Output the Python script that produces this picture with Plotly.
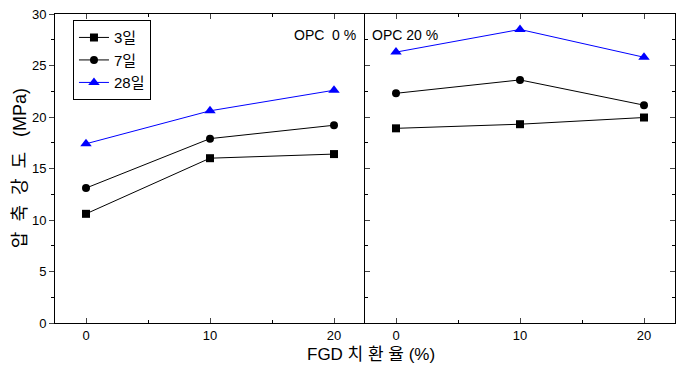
import plotly.graph_objects as go

x_vals = [0, 10, 20]
series_names = ["3일", "7일", "28일"]
opc0 = {
    "3일": [10.6, 16.0, 16.4],
    "7일": [13.1, 17.9, 19.2],
    "28일": [17.4, 20.6, 22.6],
}
opc20 = {
    "3일": [18.9, 19.3, 19.95],
    "7일": [22.3, 23.6, 21.15],
    "28일": [26.3, 28.5, 25.8],
}
panel_labels = ["OPC  0 %", "OPC 20 %"]
colors = {"3일": "black", "7일": "black", "28일": "blue"}
symbols = {"3일": "square", "7일": "circle", "28일": "triangle-up"}
msizes = {"3일": 8, "7일": 8, "28일": 10}

fig = go.Figure()
for name in series_names:
    fig.add_trace(go.Scatter(x=x_vals, y=opc0[name], name=name, mode="lines+markers",
                             line=dict(color=colors[name], width=1),
                             marker=dict(symbol=symbols[name], size=msizes[name], color=colors[name]),
                             xaxis="x", yaxis="y", legendgroup=name))
for name in series_names:
    fig.add_trace(go.Scatter(x=x_vals, y=opc20[name], name=name, mode="lines+markers",
                             line=dict(color=colors[name], width=1),
                             marker=dict(symbol=symbols[name], size=msizes[name], color=colors[name]),
                             xaxis="x2", yaxis="y2", legendgroup=name, showlegend=False))

tickfont = dict(family="Liberation Sans, Arial", size=13, color="black")
xcommon = dict(range=[-2.5, 22.5], tickvals=[0, 10, 20], ticks="inside", ticklen=5,
               showline=True, linecolor="black", linewidth=1, mirror="ticks",
               showgrid=False, zeroline=False, tickfont=tickfont,
               minor=dict(ticks="inside", dtick=5, ticklen=3, tickcolor="black"))
ycommon = dict(range=[0, 30], dtick=5, ticklen=5, showline=True, linecolor="black",
               linewidth=1, showgrid=False, zeroline=False, tickfont=tickfont)

fig.update_layout(
    width=683, height=373,
    margin=dict(l=55, r=7, t=12, b=50),
    plot_bgcolor="white", paper_bgcolor="white",
    xaxis=dict(domain=[0, 0.5], anchor="y", **xcommon),
    xaxis2=dict(domain=[0.5, 1], anchor="y2", **xcommon),
    yaxis=dict(anchor="x", ticks="outside", mirror=False,
               minor=dict(ticks="outside", dtick=2.5, ticklen=3, tickcolor="black"), **ycommon),
    yaxis2=dict(anchor="x2", ticks="inside", showticklabels=False, mirror="ticks",
                minor=dict(ticks="inside", dtick=2.5, ticklen=3, tickcolor="black"), **ycommon),
    showlegend=True,
    legend=dict(x=0.029, y=0.98, xanchor="left", yanchor="top",
                bordercolor="black", borderwidth=1, bgcolor="white",
                font=dict(family="Liberation Sans, Noto Sans CJK KR", size=15, color="black"),
                tracegroupgap=0),
    font=dict(family="Noto Sans CJK KR, Liberation Sans", color="black"),
)

fig.add_annotation(text=panel_labels[0], xref="paper", yref="paper", x=0.488, y=0.965,
                   xanchor="right", yanchor="top", showarrow=False,
                   font=dict(family="Liberation Sans", size=14, color="black"))
fig.add_annotation(text=panel_labels[1], xref="paper", yref="paper", x=0.508, y=0.965,
                   xanchor="left", yanchor="top", showarrow=False,
                   font=dict(family="Liberation Sans", size=14, color="black"))
fig.add_annotation(text="FGD 치 환 율 (%)", xref="paper", yref="paper", x=0.51, y=-0.103,
                   xanchor="center", yanchor="middle", showarrow=False,
                   font=dict(family="Liberation Sans, Noto Sans CJK KR", size=17, color="black"))
fig.add_annotation(text="압  축  강  도   (MPa)", xref="paper", yref="paper", x=-0.057, y=0.5,
                   xanchor="center", yanchor="middle", showarrow=False, textangle=-90,
                   font=dict(family="Liberation Sans, Noto Sans CJK KR", size=18, color="black"))

fig.write_html("out.html")
